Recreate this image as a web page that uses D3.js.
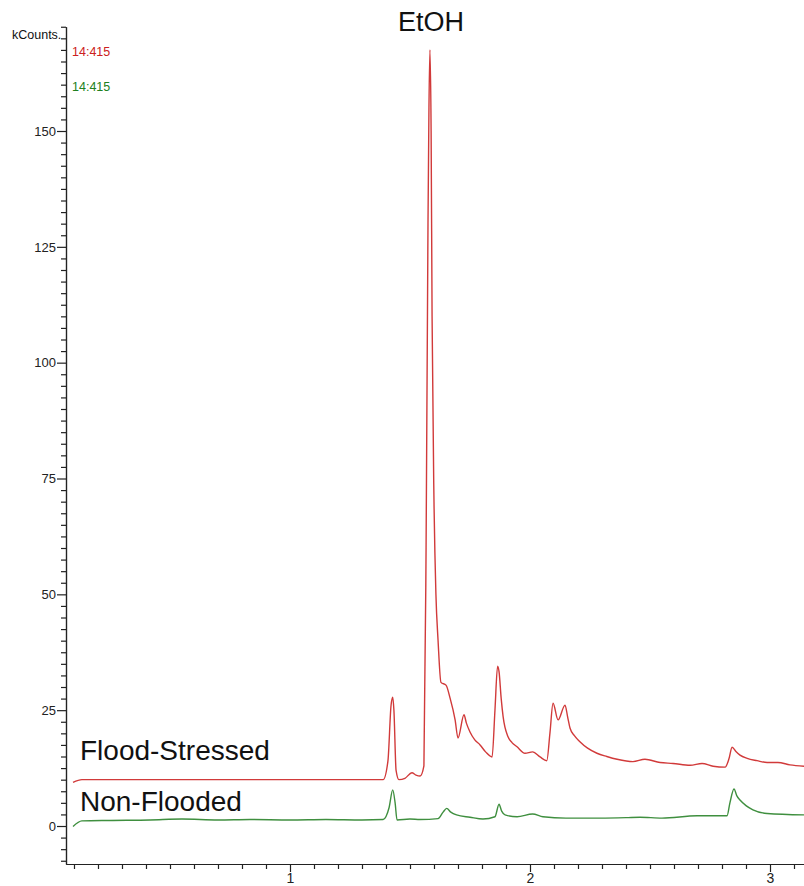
<!doctype html>
<meta charset="utf-8">
<style>
body { margin: 0; background: #fff; }
text { font-family: "Liberation Sans", Arial, sans-serif; }
.axis path, .axis line { stroke: #222; stroke-width: 1.2; }
.axis text { fill: #222; font-size: 13px; }
</style>
<body>
<div id="viz"></div>
<script src="https://d3js.org/d3.v7.min.js"></script>
<script>
// retention time (min) and intensity (kCounts)
var floodTime = [0.096, 0.133, 0.40, 0.80, 1.10, 1.388, 1.408, 1.421, 1.428, 1.433, 1.442, 1.454, 1.479, 1.508, 1.525, 1.542, 1.558,
  1.567, 1.575, 1.579, 1.583, 1.588, 1.592, 1.600, 1.608, 1.617, 1.629, 1.650, 1.667, 1.688, 1.700, 1.725, 1.735, 1.750, 1.770, 1.792, 1.815, 1.842,
  1.854, 1.865, 1.871, 1.880, 1.888, 1.908, 1.925, 1.946, 1.979, 2.011, 2.042, 2.070, 2.083, 2.096, 2.117, 2.146, 2.157, 2.167, 2.185, 2.208, 2.240, 2.279, 2.320, 2.363,
  2.429, 2.479, 2.542, 2.596, 2.667, 2.717, 2.763, 2.813, 2.829, 2.842, 2.858, 2.875, 2.905, 2.946, 2.988, 3.033, 3.083, 3.142];
var floodVals = [9.4, 10.0, 10.0, 10.0, 10.0, 10.0, 14, 26, 27.8, 25, 12, 10, 10.3, 11.5, 11.0, 10.8, 13,
  60, 130, 155, 167.5, 150, 110, 70, 50, 40, 31, 30.4, 27.6, 22.9, 19, 24, 22.2, 20.3, 18.6, 17.5, 16.0, 14.9,
  25, 34.5, 33.3, 27.5, 23.6, 19.3, 18.0, 17.1, 15.7, 16, 14.9, 14.1, 20, 26.5, 22.9, 26.1, 23.5, 21.1, 19.5, 18.2, 16.8, 15.7, 15.0, 14.4,
  13.9, 14.4, 13.7, 13.5, 13.1, 13.5, 12.9, 12.7, 14.5, 17.0, 16.1, 15.3, 14.6, 14.1, 13.7, 13.7, 13.2, 12.9];

var ctrlTime = [0.096, 0.133, 0.25, 0.417, 0.55, 0.70, 0.833, 1.00, 1.15, 1.30, 1.388, 1.413, 1.428, 1.438, 1.446, 1.50, 1.542,
  1.617, 1.638, 1.653, 1.670, 1.694, 1.750, 1.804, 1.854, 1.871, 1.882, 1.896, 1.946, 2.011, 2.054, 2.15, 2.292, 2.40, 2.458, 2.55, 2.696,
  2.821, 2.833, 2.850, 2.862, 2.875, 2.900, 2.929, 2.988, 3.142];
var ctrlVals = [-0.1, 1.1, 1.2, 1.3, 1.5, 1.3, 1.4, 1.3, 1.4, 1.3, 1.4, 4, 7.8, 5, 1.3, 1.5, 1.4,
  1.6, 3.0, 3.8, 3.0, 2.4, 1.9, 1.5, 2.0, 4.7, 3.2, 2.4, 2.0, 2.6, 2.0, 1.7, 1.7, 1.8, 1.9, 1.7, 2.2,
  2.2, 5.0, 8.0, 6.5, 5.6, 4.4, 3.5, 2.7, 2.4];

var yMajor = [0, 25, 50, 75, 100, 125, 150];
var xMajor = [1, 2, 3];
var traceLabel = "14:415";

var W = 804, H = 886;
var svg = d3.select("#viz").append("svg").attr("width", W).attr("height", H);

var x = d3.scaleLinear().domain([0.0667, 3.15]).range([66, 806]);
var y = d3.scaleLinear().domain([-8.2, 172.5]).range([864, 26.75]);

// minor ticks every 2.5 kCounts / 0.1 min
var yMinor = d3.range(-7.5, 172.6, 2.5).filter(function(v) { return v % 25 != 0; });
var xMinor = d3.range(1, 32).map(function(i) { return i / 10; }).filter(function(v) { return v % 1 != 0; });

svg.append("g").attr("class", "axis").attr("transform", "translate(66,0)")
  .call(d3.axisLeft(y).tickValues(yMinor).tickSize(5).tickSizeOuter(0).tickFormat(""));
svg.append("g").attr("class", "axis").attr("transform", "translate(66,0)")
  .call(d3.axisLeft(y).tickValues(yMajor).tickSize(9).tickSizeOuter(0).tickPadding(1));

svg.append("g").attr("class", "axis").attr("transform", "translate(0,864)")
  .call(d3.axisBottom(x).tickValues(xMinor).tickSize(5).tickSizeOuter(0).tickFormat(""));
svg.append("g").attr("class", "axis").attr("transform", "translate(0,864)")
  .call(d3.axisBottom(x).tickValues(xMajor).tickSize(8).tickSizeOuter(0).tickPadding(1).tickFormat(d3.format("d")))
  .selectAll("text").style("font-size", "14px");

var line = d3.line().curve(d3.curveMonotoneX)
  .x(function(d) { return x(d[0]); }).y(function(d) { return y(d[1]); });

svg.append("path").datum(d3.zip(ctrlTime, ctrlVals))
  .attr("d", line).attr("fill", "none").attr("stroke", "#3f8f3f").attr("stroke-width", 1.4);
svg.append("path").datum(d3.zip(floodTime, floodVals))
  .attr("d", line).attr("fill", "none").attr("stroke", "#d13a3a").attr("stroke-width", 1.4);

svg.append("text").attr("x", 12).attr("y", 39).style("font-size", "12.5px").attr("fill", "#111").text("kCounts.");
svg.append("text").attr("x", 72).attr("y", 56).style("font-size", "12.5px").attr("fill", "#cc2020").text(traceLabel);
svg.append("text").attr("x", 72).attr("y", 91).style("font-size", "12.5px").attr("fill", "#208020").text(traceLabel);

svg.append("text").attr("x", 398).attr("y", 31).style("font-size", "27px").attr("fill", "#111").text("EtOH");
svg.append("text").attr("x", 80).attr("y", 760).style("font-size", "28px").attr("fill", "#111").text("Flood-Stressed");
svg.append("text").attr("x", 80).attr("y", 811).style("font-size", "28px").attr("fill", "#111").text("Non-Flooded");
</script>
</body>
</html>
